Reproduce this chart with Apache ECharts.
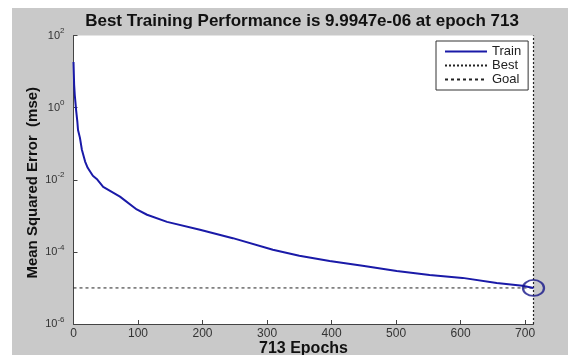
<!DOCTYPE html>
<html>
<head>
<meta charset="utf-8">
<script src="https://cdn.jsdelivr.net/npm/echarts@6/dist/echarts.min.js"></script>
<style>html,body{margin:0;padding:0;background:#fff}#c{width:568px;height:355px}</style>
</head>
<body>
<div id="c"></div>
<script>
// ---- data ----
const trainEpochs = [0,1,2,3,4,6,7,10,13,18,22,30,36,46,72,98,114,145,196,247,309,350,397,448,501,552,603,656,696,713];
const trainMse = [18.5,4.3,2.2,1.4,0.87,0.4,0.24,0.145,0.068,0.032,0.0215,0.0129,0.0105,0.0063,0.0034,0.0015,0.00107,6.8e-4,4.1e-4,2.4e-4,1.14e-4,7.8e-5,5.6e-5,4.1e-5,2.95e-5,2.3e-5,1.9e-5,1.38e-5,1.15e-5,9.9947e-6];
const bestEpoch = 713;
const bestPerf = 9.9947e-6;
const goalPerf = 1e-5;
const xTicks = [0,100,200,300,400,500,600,700];
const yMin = 1e-6, yMax = 1e2;
const titleText = 'Best Training Performance is 9.9947e-06 at epoch 713';
const xName = '713 Epochs';
const yName = 'Mean Squared Error  (mse)';

const chart = echarts.init(document.getElementById('c'), null, {renderer: 'canvas'});
const F = 'Liberation Sans, Arial, sans-serif';
const option = {
  backgroundColor: '#c9c9c9',
  animation: false,
  graphic: [
    {type: 'rect', shape: {x: 0, y: 0, width: 568, height: 8}, style: {fill: '#fff'}, silent: true},
    {type: 'rect', shape: {x: 0, y: 0, width: 12, height: 355}, style: {fill: '#fff'}, silent: true},
    {type: 'text', x: 302, y: 21.5, style: {text: titleText, font: 'bold 17px ' + F, fill: '#111', align: 'center', verticalAlign: 'middle'}}
  ],
  grid: {left: 73.5, right: 34.5, top: 35.5, bottom: 31, show: true, backgroundColor: '#fff', borderWidth: 0, containLabel: false, outerBoundsMode: 'none'},
  legend: {
    orient: 'vertical', left: 436, top: 41,
    data: ['Train', 'Best', 'Goal'],
    itemWidth: 42, itemHeight: 14, itemGap: 1,
    padding: [4, 7, 4, 8],
    itemStyle: {opacity: 0},
    backgroundColor: '#fff', borderColor: '#333', borderWidth: 1, borderRadius: 0,
    textStyle: {fontFamily: F, fontSize: 13, color: '#222'}
  },
  xAxis: {
    type: 'value', min: 0, max: 713, interval: 100,
    name: xName, nameLocation: 'middle', nameGap: 17, nameMoveOverlap: false,
    nameTextStyle: {fontFamily: F, fontSize: 16, fontWeight: 'bold', color: '#111'},
    axisLine: {show: true, lineStyle: {color: '#444', width: 1}},
    axisTick: {show: true, inside: true, length: 4, lineStyle: {color: '#444'}},
    axisLabel: {show: true, showMaxLabel: false, margin: 4, fontFamily: F, fontSize: 12, color: '#333'},
    splitLine: {show: false}
  },
  yAxis: {
    type: 'log', logBase: 10, min: yMin, max: yMax, interval: 2,
    name: yName, nameLocation: 'middle', nameGap: 33, nameRotate: 90, nameMoveOverlap: false,
    nameTextStyle: {fontFamily: F, fontSize: 15, fontWeight: 'bold', color: '#111', padding: [0, 6, 0, 0]},
    axisLine: {show: true, lineStyle: {color: '#444', width: 1}},
    axisTick: {show: true, inside: true, length: 4, lineStyle: {color: '#444'}},
    axisLabel: {
      show: true, margin: 9, align: 'right',
      formatter: function (v) { const e = Math.round(Math.log10(v)); return '{b|10}{e|' + e + '}'; },
      rich: {
        b: {fontFamily: F, fontSize: 11, color: '#333'},
        e: {fontFamily: F, fontSize: 8, color: '#333', padding: [0, 0, 9, 0]}
      }
    },
    splitLine: {show: false}
  },
  series: [
    {
      name: 'Train', type: 'line', data: trainEpochs.map((e, i) => [e, trainMse[i]]),
      symbol: 'none', lineStyle: {color: '#1a1aa8', width: 2}, itemStyle: {color: '#1a1aa8'}, z: 5
    },
    {
      name: 'Best', type: 'line', data: [[bestEpoch, yMin], [bestEpoch, yMax]],
      symbol: 'none', lineStyle: {color: '#222', width: 1.2, type: [2, 2]}, itemStyle: {color: '#555'}, z: 3
    },
    {
      name: 'Goal', type: 'line', data: [[0, goalPerf], [713, goalPerf]],
      symbol: 'none', lineStyle: {color: '#222', width: 1, type: [3, 3]}, itemStyle: {color: '#333'}, z: 3
    },
    {
      name: 'BestPoint', type: 'scatter', data: [[bestEpoch, bestPerf]],
      symbol: 'circle', symbolSize: [21, 16],
      itemStyle: {color: 'rgba(0,0,0,0)', borderColor: '#16168a', borderWidth: 2}, z: 6
    }
  ]
};
chart.setOption(option);
</script>
</body>
</html>
